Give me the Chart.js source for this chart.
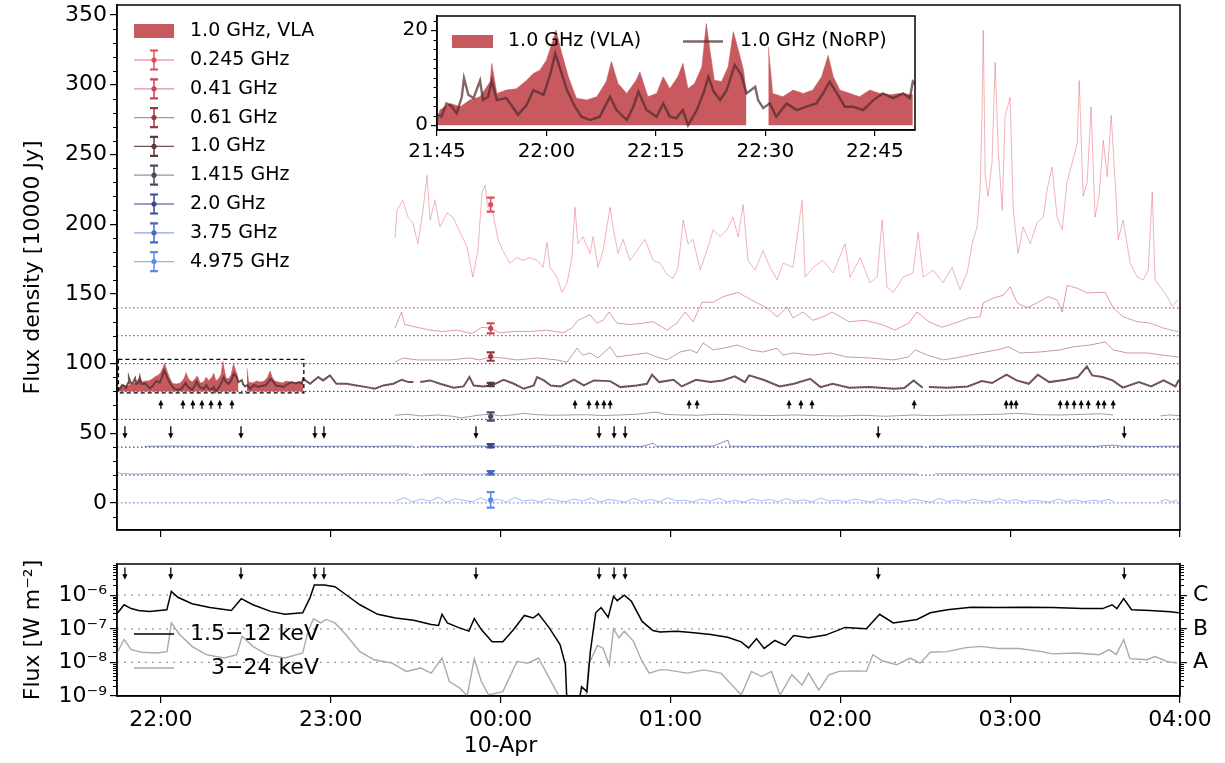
<!DOCTYPE html>
<html>
<head>
<meta charset="utf-8">
<script src="https://cdn.jsdelivr.net/npm/chart.js@4.4.1/dist/chart.umd.min.js"></script>
<style>
  body { margin: 0; background: #fff; }
  #wrap { position: relative; width: 1225px; height: 763px; }
  canvas { position: absolute; }
</style>
</head>
<body>
<div id="wrap">
  <canvas id="mainPanel" width="1225" height="545" style="left:0;top:0;width:1225px;height:545px"></canvas>
  <canvas id="goesPanel" width="1225" height="218" style="left:0;top:545px;width:1225px;height:218px"></canvas>
  <canvas id="insetPanel" width="560" height="170" style="left:380px;top:0;width:560px;height:170px"></canvas>
</div>
<script>
// time is in minutes from 00:00 on 10-Apr (negative = 9-Apr evening)
const hourTicks = [-120, -60, 0, 60, 120, 180, 240];
const hourLabels = ['22:00', '23:00', ['00:00', '10-Apr'], '01:00', '02:00', '03:00', '04:00'];
const insetTicks = [-135, -120, -105, -90, -75];
const insetLabels = ['21:45', '22:00', '22:15', '22:30', '22:45'];

const freqLabels = ['0.245 GHz', '0.41 GHz', '0.61 GHz', '1.0 GHz', '1.415 GHz', '2.0 GHz', '3.75 GHz', '4.975 GHz'];
const offsets = [140, 120, 100, 80, 60, 40, 20, 0];

// representative error bars, drawn at one time
const errTime = -3.5;
const errMid = [74, 5.3, 5, 5, 2, 1, 1.7, 2.2];
const errSize = [5, 3.6, 3, 1.2, 3, 1.2, 1.2, 5.5];

// [time, flux in 10000 Jy] (before offset)
const f245 = [[-37.3,50],[-36.6,70],[-34.5,77],[-32.7,65],[-31.0,61],[-29.2,46],[-27.4,70],[-26.0,95],[-24.9,63],[-23.2,77],[-21.4,58],[-18.9,68],[-16.8,65],[-14.3,54],[-11.9,44],[-9.8,22],[-8.0,41],[-6.6,82],[-5.5,88],[-4.5,72],[-2.7,68],[-0.9,49],[0.8,41],[3.3,32],[5.8,36],[7.9,34],[10.4,36],[12.9,34],[15.0,29],[16.4,47],[17.5,29],[19.9,22],[21.7,11],[23.5,18],[25.2,36],[26.3,72],[27.3,46],[29.1,51],[31.6,39],[32.7,51],[34.4,29],[36.2,41],[38.7,72],[39.7,58],[41.5,39],[43.3,49],[45.7,34],[48.2,41],[51.0,49],[53.9,34],[56.3,32],[58.8,24],[60.9,21],[62.7,29],[64.5,63],[66.2,46],[68.0,49],[70.5,27],[72.9,41],[75.1,56],[77.5,51],[80.0,56],[82.1,65],[83.9,51],[85.7,74],[87.4,34],[89.9,27],[92.7,41],[95.2,29],[97.7,20],[99.8,32],[103.3,29],[106.5,77],[107.6,22],[110.4,29],[113.9,34],[117.5,25],[121.7,46],[123.5,22],[127.0,36],[130.5,18],[133.0,22],[134.8,63],[136.5,15],[138.7,11],[142.2,22],[145.7,25],[147.5,54],[149.3,22],[152.8,27],[156.3,18],[159.5,29],[162.3,13],[164.8,25],[166.6,46],[168.3,58],[169.4,85],[170.1,142],[170.5,199],[171.2,94],[172.2,80],[173.6,104],[174.7,176],[175.8,113],[177.2,70],[178.2,137],[180.0,151],[181.1,70],[182.8,39],[184.6,58],[187.1,46],[189.5,61],[191.7,65],[193.1,85],[194.8,101],[196.6,65],[198.4,56],[200.1,90],[201.9,104],[203.7,118],[204.4,163],[205.8,80],[207.2,90],[208.6,144],[210.0,65],[211.4,80],[212.9,120],[214.3,94],[215.7,138],[217.1,90],[218.2,49],[219.9,63],[222.4,32],[224.9,22],[227.0,20],[228.8,27],[230.2,83],[231.2,20],[233.0,15],[235.5,8],[237.2,1],[239.4,6]];

const f41 = [[-37.3,5.5],[-35.0,17],[-33.9,8],[-29.6,6],[-25.0,4],[-20.4,3],[-15.5,4],[-10.2,1.5],[-6.6,6],[-3.8,5.5],[-0.2,2],[4.4,3],[10.4,3],[16.4,4],[22.0,2],[25.2,5.5],[27.3,11],[31.6,15],[34.1,9],[36.2,11],[38.3,17],[41.1,9],[45.7,8],[50.3,9],[53.9,10],[58.8,4],[62.3,9],[65.2,17],[68.0,10],[71.2,24],[75.1,24],[78.6,28],[83.9,31],[87.4,27],[90.6,23.5],[94.1,20],[97.7,13.5],[101.2,20.6],[103.3,12.7],[106.8,17],[110.4,11],[113.9,13.5],[117.1,17],[123.1,10],[128.7,11],[134.7,8],[139.3,4],[144.2,9],[147.1,17],[151.3,10],[155.9,6],[160.5,9],[165.5,12.7],[169.4,13.5],[170.5,23.5],[174.0,27],[177.6,29],[180.0,35],[182.5,23.5],[186.0,20],[189.5,23.5],[193.4,28],[196.6,25.6],[198.4,17],[200.1,36],[203.7,34],[207.2,30.6],[210.8,31],[213.6,31],[216.4,20],[219.9,13.5],[224.9,10],[229.5,9],[234.1,5.5],[239.4,2.7]];

const f61 = [[-37.3,1],[-34.5,4],[-29.6,2.6],[-24.0,2.6],[-18.0,2.6],[-10.9,4],[-7.4,2.6],[-3.8,4.7],[0.8,4],[5.8,2.6],[12.9,4],[19.9,2.6],[23.5,1],[27.0,11],[29.1,6],[31.6,7.6],[34.4,4],[38.7,12],[41.1,4.7],[45.7,6],[51.7,7.6],[55.2,4.7],[58.8,2.6],[63.4,8.3],[66.9,9.8],[69.4,7.6],[71.5,14.8],[75.1,9.8],[78.6,11],[83.6,13.3],[88.2,9.8],[92.7,8.3],[97.7,11],[99.8,6],[103.3,7.6],[110.4,6],[116.4,7.6],[122.4,4.7],[130.5,4],[138.7,2.6],[144.0,4.7],[146.5,9.8],[150.8,6],[156.5,2.6],[162.5,4.7],[169.4,7.6],[175.4,9.8],[179.3,12],[183.5,7.6],[190.6,8.3],[197.7,9.8],[202.3,12],[208.3,13.3],[213.6,15.5],[216.4,9.8],[221.4,7.6],[228.4,7.6],[234.1,6],[239.4,4.7]];

// 1.0 GHz NoRP (also drawn in the inset)
const norp = [[-135.5,2.0],[-135.0,2.2],[-134.4,1.8],[-133.7,4.6],[-133.0,4.0],[-132.3,2.5],[-131.6,6.0],[-131.3,9.9],[-130.7,6.4],[-130.0,5.7],[-129.1,9.4],[-128.7,5.3],[-128.0,6.0],[-127.5,9.4],[-126.8,5.3],[-125.5,5.7],[-123.9,2.2],[-122.7,4.3],[-121.8,7.4],[-120.4,6.4],[-119.5,10.6],[-118.8,15.1],[-118.2,12.3],[-117.2,7.4],[-116.1,3.9],[-115.2,1.8],[-114.0,1.1],[-112.7,1.8],[-111.3,6.0],[-110.4,3.2],[-109.0,1.1],[-108.1,3.9],[-107.4,7.1],[-106.3,3.2],[-104.9,1.8],[-104.0,4.6],[-103.1,1.8],[-102.2,1.5],[-101.3,3.2],[-100.6,0.0],[-99.4,3.2],[-98.5,6.7],[-97.8,10.2],[-97.1,7.1],[-96.2,5.3],[-95.3,7.4],[-94.2,12.7],[-93.3,10.6],[-92.6,6.7],[-91.4,8.1],[-91.0,5.3],[-90.3,3.6],[-89.4,4.6],[-88.5,1.8],[-87.1,4.6],[-85.7,3.2],[-84.4,3.9],[-83.0,4.6],[-82.1,6.7],[-81.2,9.2],[-80.2,6.7],[-79.1,3.9],[-78.0,3.9],[-76.6,3.2],[-75.2,5.3],[-73.9,6.7],[-72.5,5.7],[-71.1,6.7],[-70.2,5.7],[-69.8,9.2],[-67.3,5.5],[-64.4,10.3],[-62.7,7.9],[-60.3,11.5],[-58.0,5.5],[-54.4,5.5],[-50.9,4.3],[-47.3,3.1],[-44.4,1.9],[-41.4,4.3],[-37.9,5.5],[-34.9,8.4],[-32.5,6.7],[-30.8,6.7],[-30.0,null],[-28.4,6.7],[-24.9,7.9],[-21.4,5.5],[-16.6,2.7],[-13.1,3.6],[-11.0,10.3],[-9.5,4.3],[-6.0,3.6],[-2.4,5.0],[1.1,8.4],[4.7,5.5],[8.2,1.9],[11.7,4.3],[12.9,10.3],[15.3,7.9],[17.7,4.3],[21.2,3.6],[25.9,8.4],[29.4,4.3],[33.0,7.9],[38.7,7.4],[42.3,3.1],[48.1,4.3],[51.7,5.5],[53.5,12.0],[56.0,6.7],[61.1,8.4],[64.0,3.6],[69.0,8.4],[74.1,6.7],[78.4,7.9],[82.7,10.8],[86.3,6.7],[87.8,11.5],[92.8,8.4],[98.6,3.6],[103.6,5.5],[109.4,9.1],[113.0,3.1],[117.3,5.5],[123.1,2.7],[130.3,3.1],[139.0,1.9],[142.6,2.4],[145.9,7.9],[149.1,2.7],[150.2,null],[151.3,3.1],[157.8,2.7],[165.0,3.6],[170.0,7.4],[173.6,6.0],[178.7,12.0],[182.3,7.9],[186.6,5.5],[189.8,12.0],[193.8,6.7],[199.6,8.4],[203.9,10.3],[207.1,17.9],[209.0,11.5],[212.6,10.3],[216.2,7.9],[219.8,2.7],[225.5,6.7],[229.8,3.6],[234.2,7.9],[238.4,3.6],[239.6,8.4]];

// 1.0 GHz VLA (filled)
const vla = [[-135.0,1.1],[-134.6,3.2],[-133.2,4.6],[-131.8,3.9],[-130.5,5.3],[-129.1,6.0],[-127.7,9.2],[-127.5,13.0],[-126.8,6.7],[-125.5,7.4],[-124.1,7.7],[-122.7,9.5],[-121.8,10.9],[-120.9,11.6],[-120.0,13.7],[-119.1,17.9],[-118.7,20.0],[-117.9,15.1],[-117.0,10.2],[-115.9,5.7],[-114.5,5.3],[-113.1,6.0],[-111.8,9.2],[-111.1,13.4],[-110.2,8.8],[-109.0,6.7],[-107.7,9.5],[-107.2,11.2],[-106.1,6.0],[-104.9,6.7],[-104.0,10.2],[-103.1,7.7],[-102.0,10.2],[-101.3,13.0],[-100.6,7.7],[-99.7,8.8],[-98.7,12.3],[-98.1,21.4],[-97.6,15.8],[-97.0,9.5],[-96.0,9.2],[-95.1,12.3],[-94.4,19.7],[-93.7,15.8],[-93.0,11.6],[-92.6,6.7],[-91.0,null],[-89.6,16.5],[-89.0,6.7],[-87.6,6.0],[-86.2,7.4],[-84.8,6.7],[-83.5,7.4],[-82.3,10.2],[-81.4,14.7],[-80.7,10.2],[-79.8,7.4],[-78.4,6.7],[-77.1,6.0],[-75.7,7.4],[-74.3,6.7],[-72.9,6.4],[-71.6,6.7],[-69.8,6.4]];

const f1415 = [[-37.3,2.9],[-33,3.6],[-28,2.4],[-22,3.1],[-17,2.2],[-14,1.0],[-8,2.9],[-4,3.6],[0,2.5],[5,3.3],[8,4.3],[12,3.4],[18,2.9],[24,3.1],[30,3.3],[36,2.7],[42,3.1],[48,3.6],[55,5.2],[58,3.6],[64,3.1],[70,2.9],[76,3.6],[82,3.3],[88,2.9],[96,2.7],[104,3.1],[112,2.7],[120,2.4],[128,2.9],[136,2.2],[146,3.1],[152,2.6],[160,3.1],[168,3.3],[176,3.6],[182,4.3],[190,3.3],[198,3.1],[206,3.6],[212,4.0],[216.4,3.1],[217,null],[233,2.4],[236,3.1],[240,2.7]];

const f20 = [[-125.7,0.6],[-115,0.8],[-105,0.6],[-95,0.7],[-85,0.6],[-75,0.8],[-65,0.6],[-55,0.7],[-45,0.6],[-37,0.8],[-31,0.6],[-30,null],[-28.5,0.7],[-20,0.6],[-10,0.8],[0,0.7],[10,0.6],[20,0.8],[30,0.6],[40,0.7],[50,0.6],[54,2.9],[55,0.7],[65,0.6],[75,0.8],[80.3,5.0],[81,0.7],[90,0.6],[100,0.8],[110,0.6],[120,0.7],[130,0.6],[140,0.8],[149.3,0.6],[150,null],[151.4,0.7],[160,0.6],[170,0.8],[180,0.7],[190,0.6],[200,0.8],[210,0.6],[216,1.5],[220,0.7],[230,0.6],[240,0.7]];

const f375 = [[-135.5,2.0],[-134,1.2],[-130,0.8],[-120,1.0],[-110,0.8],[-100,1.0],[-90,0.8],[-80,1.0],[-70,0.9],[-60,0.8],[-50,1.0],[-40,0.8],[-32.5,0.9],[-32,null],[-27.5,0.8],[-20,1.0],[-10,0.8],[0,1.0],[10,0.9],[20,1.1],[30,0.8],[40,1.0],[50,0.9],[60,0.8],[70,1.0],[80,0.9],[90,0.8],[100,1.0],[110,0.9],[120,0.8],[130,1.0],[140,0.9],[147.5,0.8],[148,null],[153.5,0.9],[160,1.0],[170,0.8],[180,1.0],[190,0.9],[200,0.8],[210,1.0],[220,0.9],[230,0.8],[240,0.9]];

const f4975 = [[-37,1.5],[-34,3.8],[-31,0.8],[-28,2.9],[-25,1.2],[-22,4.1],[-19,0.6],[-16,3.2],[-13,1.8],[-10,0.9],[-7,3.5],[-4,1.1],[-1,2.7],[2,0.7],[5,3.9],[8,1.4],[11,2.2],[14,0.8],[17,3.1],[20,1.6],[23,0.9],[26,2.8],[29,1.3],[32,3.6],[35,0.7],[38,2.4],[41,1.7],[44,0.6],[47,3.3],[50,1.0],[53,2.6],[56,0.8],[59,3.7],[62,1.5],[65,2.0],[68,0.7],[71,2.9],[74,1.2],[77,3.4],[80,0.9],[83,1.9],[86,0.6],[89,3.0],[92,1.4],[95,2.5],[98,0.8],[101,3.2],[104,1.1],[107,2.3],[110,0.7],[113,3.6],[116,1.3],[119,2.1],[122,0.9],[125,2.8],[128,1.6],[131,0.7],[134,3.1],[137,1.2],[140,2.4],[143,0.8],[146,2.9],[149,1.5],[152,0.6],[155,3.3],[158,1.0],[161,2.2],[164,0.8],[167,2.7],[170,1.4],[173,0.9],[176,3.0],[179,1.1],[182,2.5],[185,0.7],[188,2.0],[191,1.3],[194,0.6],[197,2.8],[200,1.0],[203,2.3],[206,0.8],[209,1.9],[212,1.2],[215,2.6],[216.5,0.9],[217,null],[233,1.2],[235,2.4],[237,0.8],[239,2.1]];

// GOES X-ray flux [W m^-2]
const goesLong = [[-135.5,2.8e-7],[-133.0,5.2e-7],[-130.5,4.0e-7],[-127.9,3.5e-7],[-124.1,3.3e-7],[-117.9,3.7e-7],[-116.3,1.3e-6],[-114.0,8.7e-7],[-109.0,5.6e-7],[-102.7,4.3e-7],[-95.1,3.5e-7],[-91.6,7.9e-7],[-87.5,5.2e-7],[-81.2,3.3e-7],[-76.2,2.7e-7],[-69.9,3.0e-7],[-67.3,8.5e-7],[-65.8,2.0e-6],[-62.3,2.0e-6],[-58.5,1.8e-6],[-54.7,1.05e-6],[-49.7,5.2e-7],[-43.4,2.7e-7],[-37.1,2.1e-7],[-30.7,1.8e-7],[-24.5,1.35e-7],[-21.9,1.26e-7],[-20.7,2.7e-7],[-18.8,1.5e-7],[-15.0,1.1e-7],[-11.2,8.5e-8],[-9.3,2.0e-7],[-6.8,9.5e-8],[-3.0,4.1e-8],[0.8,4.1e-8],[4.6,9.5e-8],[8.4,2.5e-7],[11.5,2.1e-7],[13.4,2.8e-7],[17.2,1.07e-7],[21.0,3.4e-8],[22.9,8.5e-9],[23.5,5e-10],[27.5,5e-10],[28.6,1.9e-9],[30.5,1.35e-9],[31.7,2.1e-8],[33.6,3.0e-7],[35.5,4.3e-7],[38.0,2.2e-7],[39.9,9.3e-7],[41.2,6.9e-7],[43.7,1.0e-6],[46.2,6.6e-7],[50.0,1.66e-7],[53.8,8.9e-8],[56.3,8.1e-8],[62.3,8.5e-8],[68.3,7.6e-8],[74.2,6.8e-8],[80.2,5.6e-8],[85.0,4.1e-8],[87.6,2.7e-8],[90.4,5.1e-8],[93.1,2.6e-8],[96.9,4.5e-8],[100.5,3.2e-8],[103.5,6.3e-8],[108.8,5.4e-8],[114.8,6.5e-8],[121.7,1.1e-7],[129.2,1.0e-7],[133.9,2.7e-7],[138.7,1.5e-7],[147.1,1.9e-7],[151.8,3.0e-7],[157.8,3.7e-7],[166.2,4.4e-7],[175.7,4.3e-7],[185.3,4.4e-7],[194.8,4.3e-7],[205.6,4.0e-7],[212.7,4.0e-7],[216.0,5.2e-7],[217.7,4.0e-7],[220.1,7.9e-7],[222.9,3.7e-7],[229.4,3.5e-7],[236.6,3.2e-7],[239.6,3.0e-7]];

const goesShort = [[-135.5,1.9e-8],[-133.0,4.8e-8],[-130.5,2.4e-8],[-126.7,2.0e-8],[-121.6,1.9e-8],[-117.8,2.1e-8],[-116.3,1.5e-7],[-113.4,6.8e-8],[-109.0,3.0e-8],[-104.0,1.7e-8],[-97.6,1.35e-8],[-93.2,1.7e-8],[-91.3,6.0e-8],[-87.5,3.0e-8],[-82.5,1.7e-8],[-76.2,1.35e-8],[-69.9,1.9e-8],[-68.0,8.5e-8],[-66.1,2.0e-7],[-63.6,1.5e-7],[-61.7,1.9e-7],[-58.5,1.5e-7],[-54.7,6.8e-8],[-49.7,2.1e-8],[-44.6,1.2e-8],[-38.3,9.5e-9],[-33.3,5.4e-9],[-28.2,6.8e-9],[-24.5,4.8e-9],[-20.7,1.35e-8],[-18.1,2.7e-9],[-14.3,1.7e-9],[-11.8,1.0e-9],[-9.3,1.3e-8],[-6.8,2.7e-9],[-4.2,1.07e-9],[0.8,1.35e-9],[5.8,1.07e-8],[9.6,9.5e-9],[13.4,1.35e-8],[17.2,3.4e-9],[20.4,1.07e-9],[22,5e-10],[30,5e-10],[31.1,8.5e-9],[34.2,3.2e-8],[36.1,2.7e-8],[38.4,8.5e-9],[39.9,1.0e-7],[41.8,5.4e-8],[43.7,8.5e-8],[46.9,4.3e-8],[50.0,1.07e-8],[52.5,4.8e-9],[56.3,6.0e-9],[58.7,6.0e-9],[65.9,4.8e-9],[71.8,6.0e-9],[77.8,4.8e-9],[85.0,1.07e-9],[88.6,5.4e-9],[92.2,3.8e-9],[95.7,5.4e-9],[98.7,1.07e-9],[102.9,4.3e-9],[106.5,2.1e-9],[108.8,4.8e-9],[112.4,1.5e-9],[116.0,4.3e-9],[119.6,5.4e-9],[125.6,5.6e-9],[129.2,5.4e-9],[131.5,1.7e-8],[135.1,1.1e-8],[139.9,8.5e-9],[144.7,1.35e-8],[148.2,9.5e-9],[151.8,2.0e-8],[157.8,2.1e-8],[163.8,2.7e-8],[169.7,3.0e-8],[175.7,2.6e-8],[182.9,2.6e-8],[191.2,2.1e-8],[194.8,1.8e-8],[203.1,1.9e-8],[211.5,1.7e-8],[215.0,2.4e-8],[217.5,1.7e-8],[220.1,4.8e-8],[222.3,1.3e-8],[228.2,1.2e-8],[231.2,1.5e-8],[235.4,1.07e-8],[239.0,9.5e-9]];
const goesLevels = [1e-8, 1e-7, 1e-6];
const goesClass = ['A', 'B', 'C'];

// event markers
const upArrows = [-120,-112.2,-108.7,-105.5,-102.3,-99.2,-94.9,26.3,31.2,34.1,36.5,38.7,66.6,69.4,101.9,106.1,110.0,146.1,178.6,180.4,182.1,197.7,200.1,202.6,205.1,207.6,211.1,213.2,216.4];
const downArrows = [-132.7,-116.5,-91.7,-65.6,-62.4,-8.7,34.8,40.1,44.0,133.4,220.3];

// ---------- styling ----------
const FONT = "'DejaVu Sans', 'Liberation Sans', sans-serif";
Chart.defaults.font.family = FONT;
Chart.defaults.color = '#000';
Chart.defaults.animation = false;
Chart.defaults.elements.point.radius = 0;
Chart.defaults.elements.line.tension = 0;

const xMin = -135.5, xMax = 240;
const insetXMin = -135, insetXMax = -69.5;
const vlaColor = 'rgb(200, 90, 95)';
const markColors = ['rgb(222,78,95)', 'rgb(198,70,86)', 'rgb(150,58,66)', 'rgb(92,58,60)', 'rgb(70,76,98)', 'rgb(56,76,142)', 'rgb(72,104,192)', 'rgb(96,136,232)'];
const lineColors = ['rgba(225,80,95,0.55)', 'rgba(200,72,88,0.6)', 'rgba(155,62,70,0.6)', 'rgba(88,52,55,0.85)', 'rgba(70,76,100,0.6)', 'rgba(56,76,150,0.7)', 'rgba(72,104,200,0.6)', 'rgba(96,136,235,0.65)'];
const lineWidths = [0.8, 0.9, 0.9, 2.0, 0.9, 0.9, 0.9, 0.9];
const mainSeries = [f245, f41, f61, norp, f1415, f20, f375, f4975];

function pts(arr, off) {
  return arr.map(p => ({ x: p[0], y: p[1] === null ? null : p[1] + off }));
}

function arrow(ctx, px, yFrom, yTo) {
  const dir = Math.sign(yTo - yFrom);
  ctx.beginPath();
  ctx.moveTo(px, yFrom);
  ctx.lineTo(px, yTo - dir * 3);
  ctx.stroke();
  ctx.beginPath();
  ctx.moveTo(px, yTo);
  ctx.lineTo(px - 2.6, yTo - dir * 5.5);
  ctx.lineTo(px + 2.6, yTo - dir * 5.5);
  ctx.closePath();
  ctx.fill();
}

function errBar(ctx, px, yc, yt, yb, color) {
  ctx.strokeStyle = color;
  ctx.fillStyle = color;
  ctx.lineWidth = 1.5;
  ctx.beginPath();
  ctx.moveTo(px, yt); ctx.lineTo(px, yb);
  ctx.stroke();
  ctx.lineWidth = 2.2;
  ctx.beginPath();
  ctx.moveTo(px - 4, yt); ctx.lineTo(px + 4, yt);
  ctx.moveTo(px - 4, yb); ctx.lineTo(px + 4, yb);
  ctx.stroke();
  ctx.beginPath();
  ctx.arc(px, yc, 2.6, 0, Math.PI * 2);
  ctx.fill();
}

function frame(chart) {
  const { ctx, chartArea: a } = chart;
  ctx.save();
  ctx.strokeStyle = '#000';
  ctx.lineWidth = 1.5;
  ctx.strokeRect(a.left, a.top, a.right - a.left, a.bottom - a.top);
  ctx.restore();
}

function minorY(chart, scale, values, edge, len) {
  const ctx = chart.ctx;
  ctx.save();
  ctx.strokeStyle = '#000';
  ctx.lineWidth = 1;
  ctx.beginPath();
  values.forEach(v => {
    const py = Math.round(scale.getPixelForValue(v)) + 0.5;
    ctx.moveTo(edge, py);
    ctx.lineTo(edge + len, py);
  });
  ctx.stroke();
  ctx.restore();
}

function axisBase(extra) {
  return Object.assign({
    grid: { drawOnChartArea: false, color: '#000', tickLength: 7, lineWidth: 1.2 },
    border: { color: '#000', width: 1.5 }
  }, extra);
}

// ---------- main panel ----------
const mainSets = [];
mainSeries.forEach((d, i) => {
  mainSets.push({ label: freqLabels[i], data: pts(d, offsets[i]), borderColor: lineColors[i], borderWidth: lineWidths[i], order: i === 3 ? 1 : 2 });
});
offsets.forEach((o, i) => {
  mainSets.push({ label: 'base', data: [{ x: xMin, y: o }, { x: xMax, y: o }], borderColor: markColors[i], borderWidth: 1.2, borderDash: [1.5, 2.5], order: 6 });
});
mainSets.push({ label: '1.0 GHz, VLA', data: pts(vla, 80), fill: { value: 80 }, backgroundColor: vlaColor, borderColor: vlaColor, borderWidth: 0.6, order: 4 });

const mainMinor = [];
for (let v = -10; v <= 350; v += 10) if (v % 50 !== 0) mainMinor.push(v);

new Chart(document.getElementById('mainPanel'), {
  type: 'line',
  data: { datasets: mainSets },
  plugins: [{
    id: 'mainExtras',
    afterDatasetsDraw(chart) {
      const { ctx, scales: { x, y } } = chart;
      ctx.save();
      offsets.forEach((off, i) => {
        const px = x.getPixelForValue(errTime);
        errBar(ctx, px, y.getPixelForValue(errMid[i] + off), y.getPixelForValue(errMid[i] + off + errSize[i]), y.getPixelForValue(errMid[i] + off - errSize[i]), markColors[i]);
      });
      // box marking the inset range
      ctx.strokeStyle = '#000';
      ctx.lineWidth = 1.3;
      ctx.setLineDash([4, 3]);
      const rx0 = x.getPixelForValue(insetXMin), rx1 = x.getPixelForValue(insetXMax);
      const ry0 = y.getPixelForValue(80 + 23), ry1 = y.getPixelForValue(80 - 1);
      ctx.strokeRect(rx0, ry0, rx1 - rx0, ry1 - ry0);
      ctx.setLineDash([]);
      ctx.fillStyle = '#000';
      ctx.lineWidth = 1.3;
      upArrows.forEach(t => arrow(ctx, x.getPixelForValue(t), y.getPixelForValue(67.6), y.getPixelForValue(74)));
      downArrows.forEach(t => arrow(ctx, x.getPixelForValue(t), y.getPixelForValue(55), y.getPixelForValue(46)));
      ctx.restore();
    },
    afterDraw(chart) {
      frame(chart);
      const { ctx, chartArea: a, scales: { y } } = chart;
      minorY(chart, y, mainMinor, a.left, -4);
      // legend
      ctx.save();
      ctx.font = '19px ' + FONT;
      ctx.textBaseline = 'middle';
      ctx.fillStyle = vlaColor;
      ctx.fillRect(134, 24, 40, 14);
      ctx.fillStyle = '#000';
      ctx.fillText('1.0 GHz, VLA', 190, 31);
      freqLabels.forEach((lab, i) => {
        const yc = 60 + i * 28.8;
        ctx.strokeStyle = lineColors[i];
        ctx.lineWidth = 1.3;
        ctx.beginPath(); ctx.moveTo(134, yc); ctx.lineTo(174, yc); ctx.stroke();
        errBar(ctx, 154, yc, yc - 9.5, yc + 9.5, markColors[i]);
        ctx.fillStyle = '#000';
        ctx.fillText(lab, 190, yc);
      });
      ctx.restore();
    }
  }],
  options: {
    responsive: false,
    layout: { padding: { top: 5, right: 45, left: 0, bottom: 0 } },
    plugins: { legend: { display: false }, tooltip: { enabled: false } },
    scales: {
      x: axisBase({
        type: 'linear', min: xMin, max: xMax,
        afterBuildTicks: s => { s.ticks = hourTicks.map(v => ({ value: v })); },
        ticks: { display: false },
        afterFit: s => { s.height = 15; s.paddingLeft = 0; s.paddingRight = 0; }
      }),
      y: axisBase({
        min: -19.4, max: 357.2,
        afterBuildTicks: s => { s.ticks = [0, 50, 100, 150, 200, 250, 300, 350].map(v => ({ value: v })); },
        ticks: { font: { size: 22 }, padding: 3, callback: v => String(v) },
        title: { display: true, text: 'Flux density [10000 Jy]', font: { size: 22 }, padding: { top: 20, bottom: 0 } },
        afterFit: s => { s.width = 117; s.paddingTop = 0; s.paddingBottom = 0; }
      })
    }
  }
});

// ---------- GOES panel ----------
const supLabel = { '-9': '10⁻⁹', '-8': '10⁻⁸', '-7': '10⁻⁷', '-6': '10⁻⁶' };
const logMinor = [];
for (let e = -9; e <= -6; e++) for (let k = 2; k <= 9; k++) if (k * Math.pow(10, e) < 8.5e-6) logMinor.push(k * Math.pow(10, e));

const goesSets = goesLevels.map(lv => ({ data: [{ x: xMin, y: lv }, { x: xMax, y: lv }], borderColor: '#999', borderWidth: 1.2, borderDash: [2, 5], order: 5 }));
goesSets.push({ label: '3−24 keV', data: pts(goesShort, 0), borderColor: '#aaa', borderWidth: 1.4, order: 2 });
goesSets.push({ label: '1.5−12 keV', data: pts(goesLong, 0), borderColor: '#000', borderWidth: 1.5, order: 1 });

new Chart(document.getElementById('goesPanel'), {
  type: 'line',
  data: { datasets: goesSets },
  plugins: [{
    id: 'goesExtras',
    afterDatasetsDraw(chart) {
      const { ctx, scales: { x, y } } = chart;
      ctx.save();
      ctx.strokeStyle = '#000';
      ctx.fillStyle = '#000';
      ctx.lineWidth = 1.3;
      downArrows.forEach(t => arrow(ctx, x.getPixelForValue(t), y.getPixelForValue(6.7e-6), y.getPixelForValue(2.9e-6)));
      ctx.restore();
    },
    afterDraw(chart) {
      frame(chart);
      const { ctx, chartArea: a, scales: { y } } = chart;
      minorY(chart, y, logMinor, a.left, -4);
      minorY(chart, y, logMinor, a.right, 4);
      ctx.save();
      ctx.font = '22px ' + FONT;
      ctx.textBaseline = 'middle';
      ctx.lineWidth = 1.5;
      ctx.strokeStyle = '#000';
      ctx.beginPath(); ctx.moveTo(134, 89); ctx.lineTo(174, 89); ctx.stroke();
      ctx.strokeStyle = '#aaa';
      ctx.beginPath(); ctx.moveTo(134, 123); ctx.lineTo(174, 123); ctx.stroke();
      ctx.fillStyle = '#000';
      ctx.fillText('1.5−12 keV', 190, 89);
      const end = 190 + ctx.measureText('1.5−12 keV').width;
      ctx.textAlign = 'right';
      ctx.fillText('3−24 keV', end, 123);
      ctx.restore();
    }
  }],
  options: {
    responsive: false,
    layout: { padding: { top: 19, right: 0, left: 0, bottom: 0 } },
    plugins: { legend: { display: false }, tooltip: { enabled: false } },
    scales: {
      x: axisBase({
        type: 'linear', min: xMin, max: xMax,
        afterBuildTicks: s => { s.ticks = hourTicks.map(v => ({ value: v })); },
        ticks: { font: { size: 22 }, padding: 4, maxRotation: 0, autoSkip: false, callback: v => { const i = hourTicks.indexOf(v); return i >= 0 ? hourLabels[i] : ''; } },
        afterFit: s => { s.height = 67; s.paddingLeft = 0; s.paddingRight = 0; }
      }),
      y: axisBase({
        type: 'logarithmic', min: 1e-9, max: 8.5e-6,
        afterBuildTicks: s => { s.ticks = [1e-9, 1e-8, 1e-7, 1e-6].map(v => ({ value: v })); },
        ticks: { font: { size: 22 }, padding: 3, callback: v => supLabel[String(Math.round(Math.log10(v)))] },
        title: { display: true, text: 'Flux [W m⁻²]', font: { size: 22 }, padding: { top: 20, bottom: 0 } },
        afterFit: s => { s.width = 117; s.paddingTop = 0; s.paddingBottom = 0; }
      }),
      yClass: axisBase({
        type: 'logarithmic', position: 'right', min: 1e-9, max: 8.5e-6,
        afterBuildTicks: s => { s.ticks = goesLevels.map(v => ({ value: v })); },
        ticks: { font: { size: 22 }, padding: 6, callback: v => goesClass[goesLevels.findIndex(l => Math.abs(Math.log10(l) - Math.log10(v)) < 0.01)] },
        afterFit: s => { s.width = 45; s.paddingTop = 0; s.paddingBottom = 0; }
      })
    }
  }
});

// ---------- inset ----------
const insetMinor = [];
for (let v = 2; v <= 22; v += 2) if (v !== 20) insetMinor.push(v);

new Chart(document.getElementById('insetPanel'), {
  type: 'line',
  data: {
    datasets: [
      { label: '1.0 GHz (NoRP)', data: pts(norp, 0), borderColor: 'rgba(80,42,45,0.72)', borderWidth: 2.4, order: 1 },
      { label: '1.0 GHz (VLA)', data: pts(vla, 0), fill: { value: 0 }, backgroundColor: vlaColor, borderColor: vlaColor, borderWidth: 0.6, order: 2 }
    ]
  },
  plugins: [{
    id: 'insetExtras',
    beforeDraw(chart) {
      const { ctx, chartArea: a } = chart;
      ctx.save();
      ctx.fillStyle = '#fff';
      ctx.fillRect(a.left, a.top, a.right - a.left, a.bottom - a.top);
      ctx.restore();
    },
    afterDraw(chart) {
      frame(chart);
      const { ctx, chartArea: a, scales: { y } } = chart;
      minorY(chart, y, insetMinor, a.left, -3.5);
      ctx.save();
      ctx.font = '19px ' + FONT;
      ctx.textBaseline = 'middle';
      ctx.fillStyle = vlaColor;
      ctx.fillRect(a.left + 15, a.top + 19, 41, 13);
      ctx.strokeStyle = 'rgba(80,42,45,0.72)';
      ctx.lineWidth = 2.4;
      ctx.beginPath(); ctx.moveTo(a.left + 246, a.top + 25.5); ctx.lineTo(a.left + 286, a.top + 25.5); ctx.stroke();
      ctx.fillStyle = '#000';
      ctx.fillText('1.0 GHz (VLA)', a.left + 71, a.top + 25.5);
      ctx.fillText('1.0 GHz (NoRP)', a.left + 303, a.top + 25.5);
      ctx.restore();
    }
  }],
  options: {
    responsive: false,
    layout: { padding: { top: 16, right: 25, left: 0, bottom: 0 } },
    plugins: { legend: { display: false }, tooltip: { enabled: false } },
    scales: {
      x: axisBase({
        type: 'linear', min: insetXMin, max: insetXMax,
        afterBuildTicks: s => { s.ticks = insetTicks.map(v => ({ value: v })); },
        ticks: { font: { size: 20 }, padding: 4, maxRotation: 0, autoSkip: false, callback: v => { const i = insetTicks.indexOf(v); return i >= 0 ? insetLabels[i] : ''; } },
        grid: { drawOnChartArea: false, color: '#000', tickLength: 6, lineWidth: 1.2 },
        afterFit: s => { s.height = 40; s.paddingLeft = 0; s.paddingRight = 0; }
      }),
      y: axisBase({
        min: -1, max: 23,
        afterBuildTicks: s => { s.ticks = [0, 20].map(v => ({ value: v })); },
        ticks: { font: { size: 20 }, padding: 3, callback: v => String(v) },
        grid: { drawOnChartArea: false, color: '#000', tickLength: 6, lineWidth: 1.2 },
        afterFit: s => { s.width = 57; s.paddingTop = 0; s.paddingBottom = 0; }
      })
    }
  }
});
</script>
</body>
</html>
